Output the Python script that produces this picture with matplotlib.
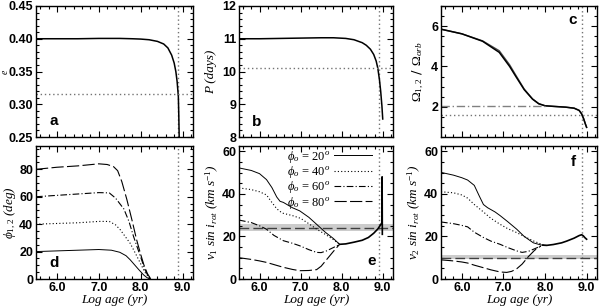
import matplotlib
matplotlib.use("Agg")
import matplotlib.pyplot as plt
from matplotlib.ticker import MultipleLocator

plt.rcParams['mathtext.fontset'] = 'custom'
plt.rcParams['mathtext.rm'] = 'Liberation Serif'
plt.rcParams['mathtext.it'] = 'Liberation Serif:italic'
plt.rcParams['mathtext.bf'] = 'Liberation Serif:bold'

# ---------------- data ----------------
# panel a: eccentricity
a_x = [5.5, 6.0, 6.5, 7.0, 7.5, 7.8, 8.0, 8.2, 8.4, 8.55, 8.65, 8.74, 8.8, 8.84, 8.87, 8.9, 8.91, 8.92]
a_e = [0.400, 0.400, 0.400, 0.4005, 0.4005, 0.400, 0.3995, 0.3985, 0.396, 0.392, 0.386, 0.375, 0.363, 0.350, 0.335, 0.312, 0.285, 0.25]
a_obs = 0.316

# panel b: period
b_x = [5.5, 6.0, 6.5, 7.0, 7.5, 7.8, 8.1, 8.3, 8.5, 8.6, 8.7, 8.78, 8.84, 8.88, 8.92, 8.95, 8.98, 9.0]
b_P = [11.0, 11.0, 11.01, 11.02, 11.03, 11.03, 11.01, 10.97, 10.88, 10.8, 10.68, 10.52, 10.32, 10.1, 9.75, 9.4, 8.95, 8.55]
b_obs = 10.1

# panel c: Omega ratio (two components)
c_x = [5.5, 6.0, 6.5, 6.9, 7.15, 7.3, 7.5, 7.7, 7.85, 8.0, 8.2, 8.5, 8.7, 8.82, 8.88, 8.93, 8.97, 9.0]
c_1 = [5.85, 5.62, 5.25, 4.70, 4.00, 3.50, 2.85, 2.38, 2.15, 2.05, 2.02, 1.98, 1.93, 1.82, 1.65, 1.40, 1.15, 0.98]
c_2 = [5.85, 5.62, 5.27, 4.78, 4.08, 3.56, 2.88, 2.39, 2.15, 2.05, 2.02, 1.98, 1.93, 1.82, 1.65, 1.40, 1.15, 0.98]
c_pseudo = 2.02
c_obs = 1.6

# panel d: obliquity phi_1,2 for phi_0 = 20, 40, 60, 80 deg
d_x20 = [5.5, 6.0, 6.5, 7.0, 7.3, 7.5, 7.65, 7.75, 7.85, 7.95, 8.07, 8.15, 8.22]
d_20 = [20, 20.5, 21, 21.5, 21, 19.5, 17, 14, 10.5, 7, 3, 1, 0]
d_x40 = [5.5, 6.0, 6.5, 7.0, 7.25, 7.4, 7.51, 7.63, 7.75, 7.87, 7.99, 8.1, 8.2, 8.25]
d_40 = [40, 40.5, 41, 42, 42, 39.5, 36, 31, 26, 19, 11.7, 5, 1, 0]
d_x60 = [5.5, 6.0, 6.5, 7.0, 7.25, 7.4, 7.5, 7.6, 7.72, 7.83, 7.92, 8.0, 8.1, 8.18, 8.24]
d_60 = [60, 61, 62, 63, 62.8, 59, 55, 51, 42, 31, 23, 16, 7, 2, 0]
d_x80 = [5.5, 6.0, 6.5, 7.0, 7.2, 7.35, 7.45, 7.55, 7.67, 7.8, 7.9, 8.0, 8.08, 8.16, 8.24]
d_80 = [80, 81.5, 82.5, 84, 83.5, 82, 79, 71, 58, 42, 29, 18, 10, 4, 0]

# panel e: v1 sin i_rot
e_x20 = [5.5, 5.8, 6.0, 6.17, 6.3, 6.42, 6.5, 6.58, 6.8, 6.98, 7.2, 7.39, 7.6, 7.8, 7.95]
e_20 = [52.2, 51, 49.5, 46.7, 43, 38.5, 36.5, 36, 33.5, 32, 29, 25.7, 22, 19, 16.3]
e_x40 = [5.5, 5.8, 6.0, 6.17, 6.3, 6.42, 6.55, 6.8, 7.0, 7.2, 7.4, 7.6, 7.8, 7.95]
e_40 = [42.8, 42, 41, 39.5, 36, 33, 31, 29.8, 28.5, 26, 23.3, 21, 18.5, 16.3]
e_x60 = [5.5, 5.8, 6.0, 6.17, 6.35, 6.58, 6.8, 6.98, 7.2, 7.39, 7.5, 7.63, 7.8, 7.96]
e_60 = [27.7, 26.5, 25, 23.4, 20.5, 18, 16.8, 15.6, 13.8, 12.5, 12.4, 13.2, 14.8, 16.3]
e_x80 = [5.5, 5.8, 6.0, 6.17, 6.4, 6.58, 6.8, 6.98, 7.2, 7.39, 7.5, 7.65, 7.8, 7.95]
e_80 = [10, 9.2, 8.5, 7.8, 6.5, 5.5, 4.5, 3.9, 4, 4.4, 6, 9.5, 13, 16.3]
e_xc = [7.95, 8.1, 8.3, 8.5, 8.65, 8.78, 8.88, 8.95, 8.98, 8.985, 8.99]
e_c = [16.3, 16.5, 17.3, 18.2, 19.5, 21.5, 23.5, 25.5, 26.5, 48, 21]
e_obs = 24.0
e_err = [22.6, 25.7]

# panel f: v2 sin i_rot
f_x20 = [5.5, 5.8, 6.0, 6.14, 6.3, 6.42, 6.52, 6.62, 6.8, 6.92, 7.1, 7.32, 7.5, 7.72, 7.9, 8.04]
f_20 = [50.1, 48.8, 47.6, 46.5, 44, 39, 35, 33.5, 31.5, 29.8, 27, 23.4, 20, 17, 16, 15.8]
f_x40 = [5.5, 5.8, 6.0, 6.14, 6.3, 6.52, 6.7, 6.92, 7.1, 7.32, 7.5, 7.72, 7.96]
f_40 = [41, 40.5, 39.5, 38, 35, 31.5, 28.5, 25.7, 23.7, 21.8, 20, 17.9, 16]
f_x60 = [5.5, 5.8, 6.0, 6.14, 6.3, 6.52, 6.7, 6.92, 7.1, 7.32, 7.45, 7.6, 7.75, 7.9]
f_60 = [26.8, 26, 25.2, 24.5, 22, 19.5, 17.8, 16.3, 14.8, 13.2, 12.5, 13, 14.2, 15.5]
f_x80 = [5.5, 5.8, 6.0, 6.14, 6.3, 6.52, 6.7, 6.92, 7.08, 7.2, 7.32, 7.45, 7.6, 7.75, 7.9]
f_80 = [9, 8.5, 8, 7.5, 6.5, 5.3, 4.3, 3.3, 3.1, 3.6, 4.8, 7, 10.5, 13.5, 15.5]
f_xc = [7.95, 8.04, 8.2, 8.4, 8.52, 8.7, 8.82, 8.88, 8.92, 8.96, 9.0]
f_c = [15.9, 15.8, 16.2, 17, 17.8, 19.2, 20.4, 20.8, 20.3, 19.4, 18.7]
f_obs = 10.0
f_err = [9.3, 11.2]

age_now = 8.9
phi0_labels = [r'$\phi_o$ = 20$^o$', r'$\phi_o$ = 40$^o$', r'$\phi_o$ = 60$^o$', r'$\phi_o$ = 80$^o$']

# ---------------- figure ----------------
fig = plt.figure(figsize=(6.0, 3.08), dpi=100)
W, H = 600.0, 308.0
def pos(x0, x1, y0, y1):
    return [x0 / W, 1 - y1 / H, (x1 - x0) / W, (y1 - y0) / H]

ax_a = fig.add_axes(pos(36, 193, 6, 137))
ax_b = fig.add_axes(pos(239, 393, 6, 137))
ax_c = fig.add_axes(pos(441, 597, 6, 137))
ax_d = fig.add_axes(pos(36, 193, 146, 279))
ax_e = fig.add_axes(pos(239, 393, 146, 279))
ax_f = fig.add_axes(pos(441, 597, 146, 279))

tickfont = dict(family='Liberation Sans', weight='bold', size=9)
labfont = dict(family='Liberation Serif', style='italic', size=9.5)
letterfont = dict(family='Liberation Sans', weight='bold', size=11)

styles = [dict(ls='-', lw=0.7), dict(ls=(0, (1, 2)), lw=0.8),
          dict(ls=(0, (6, 2, 1, 2)), lw=0.8), dict(ls=(0, (11, 3)), lw=0.8)]

for ax in [ax_a, ax_b, ax_c, ax_d, ax_e, ax_f]:
    ax.set_xlim(5.5, 9.25)
    ax.xaxis.set_major_locator(MultipleLocator(1.0))
    ax.xaxis.set_minor_locator(MultipleLocator(0.2))
    ax.tick_params(which='both', direction='in', top=True, right=True, width=0.8, pad=2)
    ax.tick_params(which='major', length=4)
    ax.tick_params(which='minor', length=2)
    for s in ax.spines.values():
        s.set_linewidth(1.0)
    ax.axvline(age_now, color='0.45', ls=(0, (1, 2)), lw=1.0)

for ax in [ax_a, ax_b, ax_c]:
    ax.tick_params(labelbottom=False)
for ax in [ax_d, ax_e, ax_f]:
    ax.set_xlabel('Log age (yr)', **labfont, labelpad=0)
    ax.set_xticks([6, 7, 8, 9])
    ax.set_xticklabels(['6.0', '7.0', '8.0', '9.0'], **tickfont)

def set_yticks(ax, ticks, labels):
    ax.set_yticks(ticks)
    ax.set_yticklabels(labels, **tickfont)

# a
ax_a.plot(a_x, a_e, color='k', lw=1.1)
ax_a.axhline(a_obs, color='0.45', ls=(0, (1, 2)), lw=1.0)
ax_a.set_ylim(0.25, 0.45)
set_yticks(ax_a, [0.25, 0.30, 0.35, 0.40, 0.45], ['0.25', '0.30', '0.35', '0.40', '0.45'])
ax_a.yaxis.set_minor_locator(MultipleLocator(0.01))
ax_a.set_ylabel(r'$e$', fontsize=7)
ax_a.yaxis.set_label_coords(-0.165, 0.5)
ax_a.text(5.82, 0.268, 'a', **letterfont)

# b
ax_b.plot(b_x, b_P, color='k', lw=1.1)
ax_b.axhline(b_obs, color='0.45', ls=(0, (1, 2)), lw=1.0)
ax_b.set_ylim(8, 12)
set_yticks(ax_b, [8, 9, 10, 11, 12], ['8', '9', '10', '11', '12'])
ax_b.yaxis.set_minor_locator(MultipleLocator(0.2))
ax_b.set_ylabel('P (days)', **labfont, labelpad=4)
ax_b.text(5.82, 8.35, 'b', **letterfont)

# c
ax_c.plot(c_x, c_2, color='0.3', lw=1.0)
ax_c.plot(c_x, c_1, color='k', lw=1.1)
ax_c.plot([5.5, 8.0], [c_pseudo, c_pseudo], color='0.5', ls=(0, (6, 2, 1, 2)), lw=1.0)
ax_c.axhline(c_obs, color='0.45', ls=(0, (1, 2)), lw=1.0)
ax_c.set_ylim(0.5, 7.0)
set_yticks(ax_c, [2, 4, 6], ['2', '4', '6'])
ax_c.yaxis.set_minor_locator(MultipleLocator(0.5))
ax_c.set_ylabel(r'$\Omega_{1,2}$ / $\Omega_{orb}$', fontsize=9.5, labelpad=4)
ax_c.text(8.55, 6.1, 'c', **letterfont)

# d
for xs, ys, st in zip([d_x20, d_x40, d_x60, d_x80], [d_20, d_40, d_60, d_80], styles):
    ax_d.plot(xs, ys, color='k', **st)
ax_d.set_ylim(0, 97)
set_yticks(ax_d, [0, 20, 40, 60, 80], ['0', '20', '40', '60', '80'])
ax_d.yaxis.set_minor_locator(MultipleLocator(5))
ax_d.set_ylabel(r'$\phi_{1,2}$ (deg)', **labfont, labelpad=1)
ax_d.text(5.82, 9, 'd', **letterfont)

# e
ax_e.axhspan(e_err[0], e_err[1], color='0.8', lw=0)
ax_e.axhline(e_obs, color='0.25', ls=(0, (7, 3)), lw=1.0)
lines = []
for xs, ys, st in zip([e_x20, e_x40, e_x60, e_x80], [e_20, e_40, e_60, e_80], styles):
    ln, = ax_e.plot(xs, ys, color='k', **st)
    lines.append(ln)
ax_e.plot(e_xc, e_c, color='k', lw=1.2)
ax_e.set_ylim(0, 62.5)
set_yticks(ax_e, [0, 20, 40, 60], ['0', '20', '40', '60'])
ax_e.yaxis.set_minor_locator(MultipleLocator(5))
ax_e.set_ylabel(r'$v_1$ sin $i_{rot}$ (km s$^{-1}$)', **labfont, labelpad=1)
ax_e.text(8.62, 6.5, 'e', **letterfont)
leg = ax_e.legend(lines, phi0_labels, loc='upper right', bbox_to_anchor=(0.87, 0.99),
                  frameon=False, markerfirst=False, fontsize=9, handlelength=3.0,
                  handletextpad=0.3, labelspacing=-0.05, borderaxespad=0, borderpad=0.1)
for t in leg.get_texts():
    t.set_family('Liberation Serif')

# f
ax_f.axhspan(f_err[0], f_err[1], color='0.8', lw=0)
ax_f.axhline(f_obs, color='0.25', ls=(0, (7, 3)), lw=1.0)
for xs, ys, st in zip([f_x20, f_x40, f_x60, f_x80], [f_20, f_40, f_60, f_80], styles):
    ax_f.plot(xs, ys, color='k', **st)
ax_f.plot(f_xc, f_c, color='k', lw=1.2)
ax_f.set_ylim(0, 62.5)
set_yticks(ax_f, [0, 20, 40, 60], ['0', '20', '40', '60'])
ax_f.yaxis.set_minor_locator(MultipleLocator(5))
ax_f.set_ylabel(r'$v_2$ sin $i_{rot}$ (km s$^{-1}$)', **labfont, labelpad=1)
ax_f.text(8.62, 53, 'f', **letterfont)

fig.savefig('out.png', dpi=100)
